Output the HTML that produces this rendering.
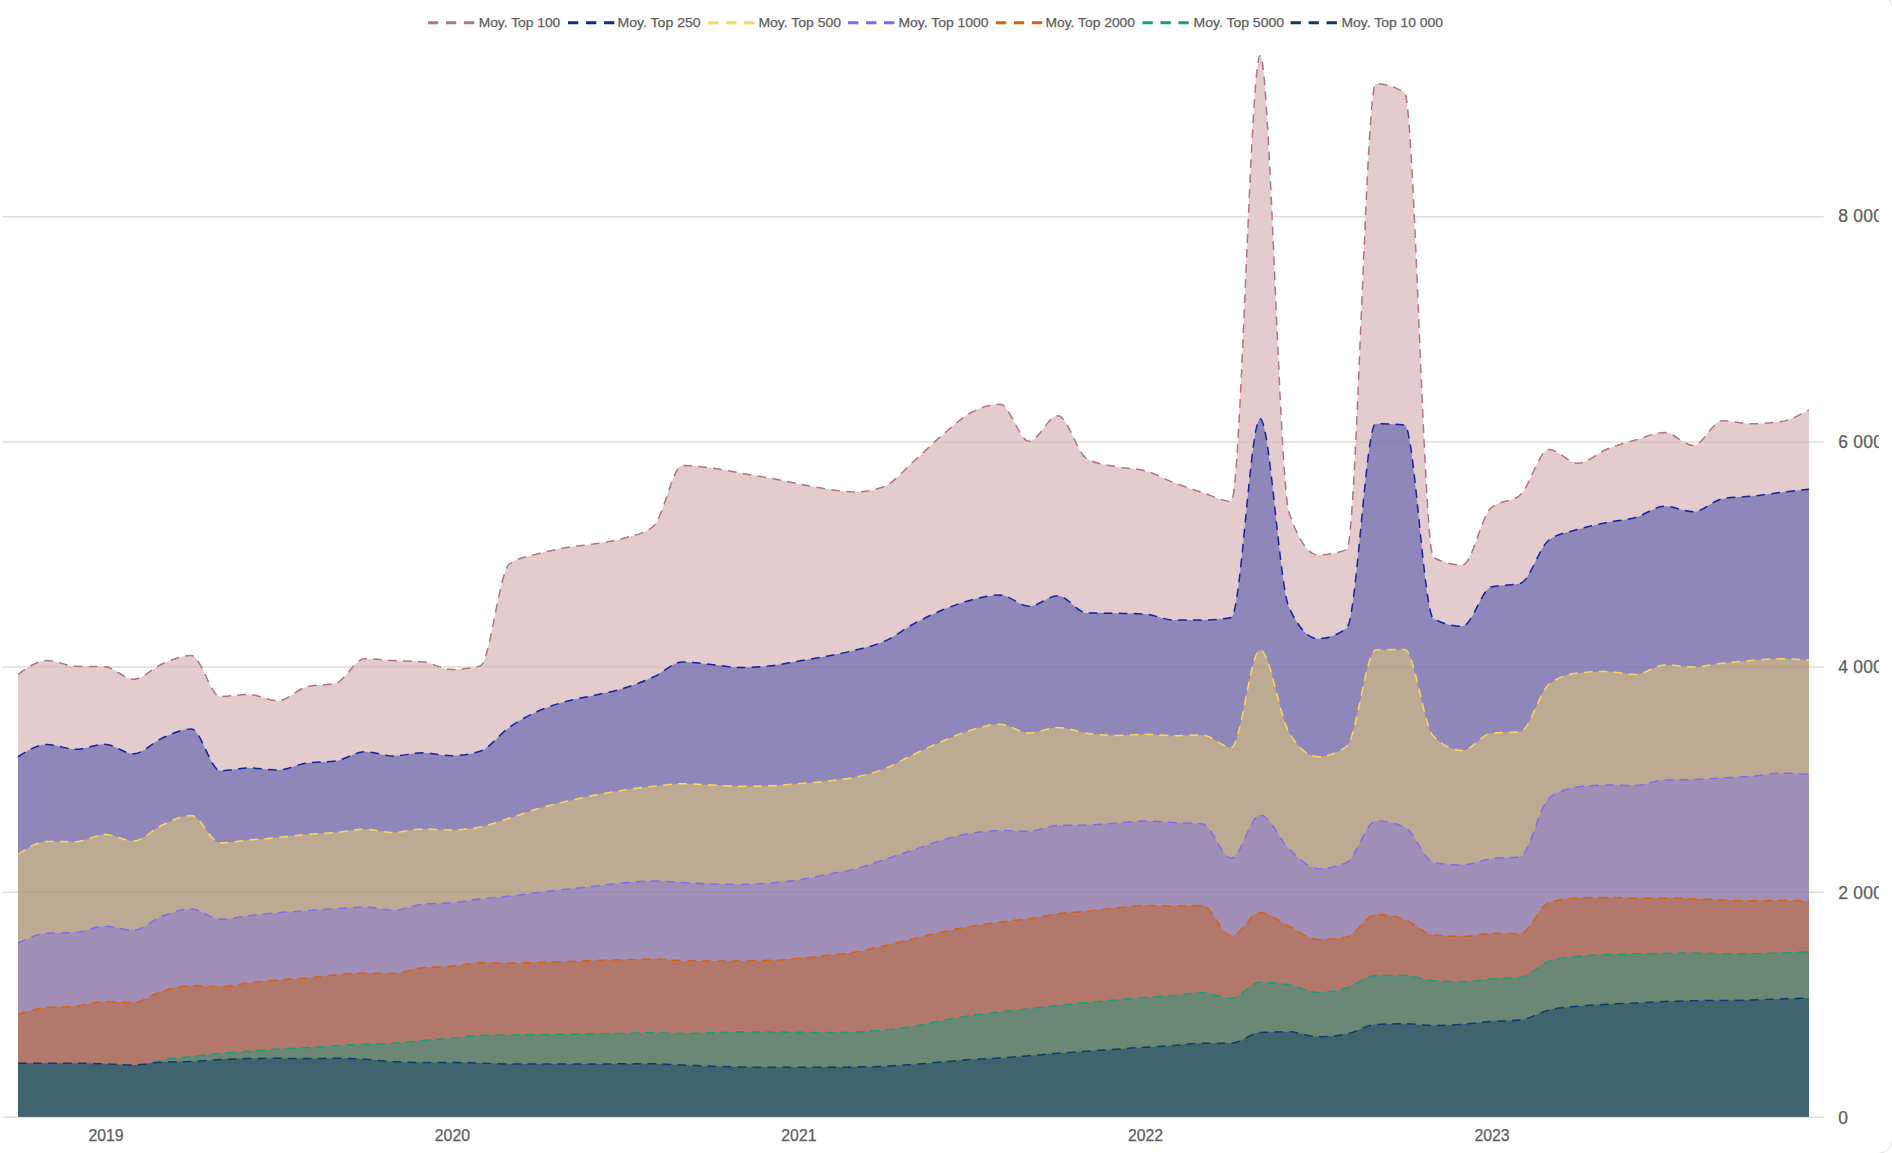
<!DOCTYPE html>
<html><head><meta charset="utf-8"><title>Chart</title>
<style>
html,body{margin:0;padding:0;background:#fff;}
body{width:1892px;height:1153px;position:relative;overflow:hidden;font-family:"Liberation Sans",sans-serif;}
svg text{font-family:"Liberation Sans",sans-serif;stroke:#605E5C;stroke-width:0.25px;}
</style></head><body>
<svg width="1892" height="1153" viewBox="0 0 1892 1153" style="position:absolute;left:0;top:0">
<line x1="3" x2="1823.5" y1="1117.30" y2="1117.30" stroke="#E1DCD7" stroke-width="1.5"/>
<line x1="3" x2="1823.5" y1="892.16" y2="892.16" stroke="#E1DCD7" stroke-width="1.5"/>
<line x1="3" x2="1823.5" y1="667.02" y2="667.02" stroke="#E1DCD7" stroke-width="1.5"/>
<line x1="3" x2="1823.5" y1="441.88" y2="441.88" stroke="#E1DCD7" stroke-width="1.5"/>
<line x1="3" x2="1823.5" y1="216.74" y2="216.74" stroke="#E1DCD7" stroke-width="1.5"/>
<path d="M18.00,674.50C27.63,667.50,37.26,660.50,46.89,660.50C56.52,660.50,66.15,665.92,75.77,666.25C85.40,666.58,95.03,666.42,104.66,666.75C114.29,667.08,123.92,679.25,133.55,679.25C143.18,679.25,152.81,667.71,162.44,663.75C172.06,659.79,181.69,655.50,191.32,655.50C200.95,655.50,210.58,696.50,220.21,696.50C229.84,696.50,239.47,694.50,249.10,694.50C258.73,694.50,268.35,700.75,277.98,700.75C287.61,700.75,297.24,689.08,306.87,686.75C316.50,684.42,326.13,685.58,335.76,683.25C345.39,680.92,355.02,658.75,364.65,658.75C374.27,658.75,383.90,660.00,393.53,660.50C403.16,661.00,412.79,660.92,422.42,661.75C432.05,662.58,441.68,669.50,451.31,669.50C460.94,669.50,470.56,668.33,480.19,666.00C489.82,663.67,499.45,571.67,509.08,564.50C518.71,557.33,528.34,556.58,537.97,553.75C547.60,550.92,557.23,549.17,566.85,547.50C576.48,545.83,586.11,545.33,595.74,543.75C605.37,542.17,615.00,540.92,624.63,538.00C634.26,535.08,643.89,534.08,653.52,526.25C663.15,518.42,672.77,465.50,682.40,465.50C692.03,465.50,701.66,466.75,711.29,468.00C720.92,469.25,730.55,471.33,740.18,473.00C749.81,474.67,759.44,476.21,769.06,478.00C778.69,479.79,788.32,481.92,797.95,483.75C807.58,485.58,817.21,487.62,826.84,489.00C836.47,490.38,846.10,492.00,855.73,492.00C865.35,492.00,874.98,490.08,884.61,486.25C894.24,482.42,903.87,470.04,913.50,461.50C923.13,452.96,932.76,443.17,942.39,435.00C952.02,426.83,961.65,417.62,971.27,412.50C980.90,407.38,990.53,404.25,1000.16,404.25C1009.79,404.25,1019.42,441.25,1029.05,441.25C1038.68,441.25,1048.31,415.75,1057.94,415.75C1067.56,415.75,1077.19,453.42,1086.82,458.75C1096.45,464.08,1106.08,464.79,1115.71,466.75C1125.34,468.71,1134.97,468.00,1144.60,470.50C1154.23,473.00,1163.85,478.83,1173.48,482.50C1183.11,486.17,1192.74,489.38,1202.37,492.50C1212.00,495.62,1221.63,501.25,1231.26,501.25C1240.89,501.25,1250.52,55.50,1260.15,55.50C1269.77,55.50,1279.40,484.17,1289.03,512.50C1298.66,540.83,1308.29,555.00,1317.92,555.00C1327.55,555.00,1337.18,553.17,1346.81,549.50C1356.44,545.83,1366.06,83.75,1375.69,83.75C1385.32,83.75,1394.95,86.67,1404.58,92.50C1414.21,98.33,1423.84,552.50,1433.47,557.50C1443.10,562.50,1452.73,565.00,1462.35,565.00C1471.98,565.00,1481.61,515.83,1491.24,507.50C1500.87,499.17,1510.50,503.33,1520.13,495.00C1529.76,486.67,1539.39,449.50,1549.02,449.50C1558.65,449.50,1568.27,463.25,1577.90,463.25C1587.53,463.25,1597.16,453.12,1606.79,449.25C1616.42,445.38,1626.05,442.79,1635.68,440.00C1645.31,437.21,1654.94,432.50,1664.56,432.50C1674.19,432.50,1683.82,445.50,1693.45,445.50C1703.08,445.50,1712.71,420.75,1722.34,420.75C1731.97,420.75,1741.60,423.75,1751.23,423.75C1760.85,423.75,1770.48,423.08,1780.11,421.75C1789.74,420.42,1799.37,415.21,1809.00,410.00L1809.00,1116.8L18.00,1116.8Z" fill="#E3CBCE"/>
<path d="M18.00,756.75C27.63,750.62,37.26,744.50,46.89,744.50C56.52,744.50,66.15,749.25,75.77,749.25C85.40,749.25,95.03,744.25,104.66,744.25C114.29,744.25,123.92,753.75,133.55,753.75C143.18,753.75,152.81,742.12,162.44,738.00C172.06,733.88,181.69,729.00,191.32,729.00C200.95,729.00,210.58,770.75,220.21,770.75C229.84,770.75,239.47,768.00,249.10,768.00C258.73,768.00,268.35,770.00,277.98,770.00C287.61,770.00,297.24,764.33,306.87,763.00C316.50,761.67,326.13,762.33,335.76,761.00C345.39,759.67,355.02,751.75,364.65,751.75C374.27,751.75,383.90,756.00,393.53,756.00C403.16,756.00,412.79,752.75,422.42,752.75C432.05,752.75,441.68,755.75,451.31,755.75C460.94,755.75,470.56,754.25,480.19,751.25C489.82,748.25,499.45,734.17,509.08,727.50C518.71,720.83,528.34,715.62,537.97,711.25C547.60,706.88,557.23,703.96,566.85,701.25C576.48,698.54,586.11,697.21,595.74,695.00C605.37,692.79,615.00,691.00,624.63,688.00C634.26,685.00,643.89,681.33,653.52,677.00C663.15,672.67,672.77,662.00,682.40,662.00C692.03,662.00,701.66,663.58,711.29,664.50C720.92,665.42,730.55,667.50,740.18,667.50C749.81,667.50,759.44,667.00,769.06,666.00C778.69,665.00,788.32,662.88,797.95,661.25C807.58,659.62,817.21,658.12,826.84,656.25C836.47,654.38,846.10,652.50,855.73,650.00C865.35,647.50,874.98,645.58,884.61,641.25C894.24,636.92,903.87,629.21,913.50,624.00C923.13,618.79,932.76,614.00,942.39,610.00C952.02,606.00,961.65,602.50,971.27,600.00C980.90,597.50,990.53,595.00,1000.16,595.00C1009.79,595.00,1019.42,606.25,1029.05,606.25C1038.68,606.25,1048.31,595.75,1057.94,595.75C1067.56,595.75,1077.19,612.83,1086.82,613.00C1096.45,613.17,1106.08,613.08,1115.71,613.25C1125.34,613.42,1134.97,613.50,1144.60,614.00C1154.23,614.50,1163.85,620.00,1173.48,620.00C1183.11,620.00,1192.74,620.00,1202.37,620.00C1212.00,620.00,1221.63,619.17,1231.26,617.50C1240.89,615.83,1250.52,418.75,1260.15,418.75C1269.77,418.75,1279.40,586.67,1289.03,607.50C1298.66,628.33,1308.29,638.75,1317.92,638.75C1327.55,638.75,1337.18,635.17,1346.81,628.00C1356.44,620.83,1366.06,423.75,1375.69,423.75C1385.32,423.75,1394.95,424.17,1404.58,425.00C1414.21,425.83,1423.84,613.75,1433.47,618.75C1443.10,623.75,1452.73,626.25,1462.35,626.25C1471.98,626.25,1481.61,589.33,1491.24,587.00C1500.87,584.67,1510.50,585.83,1520.13,583.50C1529.76,581.17,1539.39,547.00,1549.02,540.00C1558.65,533.00,1568.27,532.42,1577.90,529.50C1587.53,526.58,1597.16,524.50,1606.79,522.50C1616.42,520.50,1626.05,520.21,1635.68,517.50C1645.31,514.79,1654.94,506.25,1664.56,506.25C1674.19,506.25,1683.82,511.75,1693.45,511.75C1703.08,511.75,1712.71,500.42,1722.34,498.75C1731.97,497.08,1741.60,497.29,1751.23,496.25C1760.85,495.21,1770.48,493.67,1780.11,492.50C1789.74,491.33,1799.37,490.29,1809.00,489.25L1809.00,1116.8L18.00,1116.8Z" fill="#8F87BA"/>
<path d="M18.00,854.50C27.63,848.00,37.26,841.50,46.89,841.50C56.52,841.50,66.15,841.75,75.77,841.75C85.40,841.75,95.03,834.50,104.66,834.50C114.29,834.50,123.92,841.00,133.55,841.00C143.18,841.00,152.81,829.25,162.44,825.00C172.06,820.75,181.69,815.50,191.32,815.50C200.95,815.50,210.58,843.00,220.21,843.00C229.84,843.00,239.47,840.92,249.10,840.00C258.73,839.08,268.35,838.42,277.98,837.50C287.61,836.58,297.24,835.33,306.87,834.50C316.50,833.67,326.13,833.38,335.76,832.50C345.39,831.62,355.02,829.25,364.65,829.25C374.27,829.25,383.90,832.50,393.53,832.50C403.16,832.50,412.79,829.00,422.42,829.00C432.05,829.00,441.68,830.00,451.31,830.00C460.94,830.00,470.56,828.96,480.19,827.00C489.82,825.04,499.45,821.29,509.08,818.25C518.71,815.21,528.34,811.58,537.97,808.75C547.60,805.92,557.23,803.54,566.85,801.25C576.48,798.96,586.11,796.88,595.74,795.00C605.37,793.12,615.00,791.46,624.63,790.00C634.26,788.54,643.89,787.29,653.52,786.25C663.15,785.21,672.77,783.75,682.40,783.75C692.03,783.75,701.66,784.58,711.29,785.00C720.92,785.42,730.55,786.25,740.18,786.25C749.81,786.25,759.44,786.08,769.06,785.75C778.69,785.42,788.32,784.50,797.95,783.75C807.58,783.00,817.21,782.38,826.84,781.25C836.47,780.12,846.10,779.08,855.73,777.00C865.35,774.92,874.98,772.50,884.61,768.75C894.24,765.00,903.87,759.08,913.50,754.50C923.13,749.92,932.76,745.33,942.39,741.25C952.02,737.17,961.65,732.83,971.27,730.00C980.90,727.17,990.53,724.25,1000.16,724.25C1009.79,724.25,1019.42,733.00,1029.05,733.00C1038.68,733.00,1048.31,727.50,1057.94,727.50C1067.56,727.50,1077.19,731.92,1086.82,733.25C1096.45,734.58,1106.08,735.50,1115.71,735.50C1125.34,735.50,1134.97,734.25,1144.60,734.25C1154.23,734.25,1163.85,735.75,1173.48,735.75C1183.11,735.75,1192.74,735.00,1202.37,735.00C1212.00,735.00,1221.63,747.50,1231.26,747.50C1240.89,747.50,1250.52,650.00,1260.15,650.00C1269.77,650.00,1279.40,716.33,1289.03,732.50C1298.66,748.67,1308.29,756.75,1317.92,756.75C1327.55,756.75,1337.18,753.25,1346.81,746.25C1356.44,739.25,1366.06,650.33,1375.69,650.00C1385.32,649.67,1394.95,649.50,1404.58,649.50C1414.21,649.50,1423.84,726.75,1433.47,736.25C1443.10,745.75,1452.73,750.50,1462.35,750.50C1471.98,750.50,1481.61,734.25,1491.24,733.25C1500.87,732.25,1510.50,732.75,1520.13,731.75C1529.76,730.75,1539.39,691.75,1549.02,684.25C1558.65,676.75,1568.27,674.00,1577.90,673.00C1587.53,672.00,1597.16,671.50,1606.79,671.50C1616.42,671.50,1626.05,674.50,1635.68,674.50C1645.31,674.50,1654.94,665.00,1664.56,665.00C1674.19,665.00,1683.82,667.00,1693.45,667.00C1703.08,667.00,1712.71,664.33,1722.34,663.25C1731.97,662.17,1741.60,661.25,1751.23,660.50C1760.85,659.75,1770.48,658.75,1780.11,658.75C1789.74,658.75,1799.37,659.38,1809.00,660.00L1809.00,1116.8L18.00,1116.8Z" fill="#BCAA92"/>
<path d="M18.00,943.25C27.63,938.50,37.26,933.75,46.89,933.25C56.52,932.75,66.15,933.00,75.77,932.50C85.40,932.00,95.03,926.25,104.66,926.25C114.29,926.25,123.92,930.25,133.55,930.25C143.18,930.25,152.81,919.79,162.44,916.25C172.06,912.71,181.69,909.00,191.32,909.00C200.95,909.00,210.58,919.25,220.21,919.25C229.84,919.25,239.47,916.83,249.10,915.75C258.73,914.67,268.35,913.58,277.98,912.75C287.61,911.92,297.24,911.42,306.87,910.75C316.50,910.08,326.13,909.33,335.76,908.75C345.39,908.17,355.02,907.25,364.65,907.25C374.27,907.25,383.90,910.25,393.53,910.25C403.16,910.25,412.79,905.25,422.42,904.25C432.05,903.25,441.68,903.62,451.31,902.75C460.94,901.88,470.56,900.08,480.19,899.00C489.82,897.92,499.45,897.33,509.08,896.25C518.71,895.17,528.34,893.67,537.97,892.50C547.60,891.33,557.23,890.33,566.85,889.25C576.48,888.17,586.11,887.08,595.74,886.00C605.37,884.92,615.00,883.58,624.63,882.75C634.26,881.92,643.89,881.00,653.52,881.00C663.15,881.00,672.77,882.00,682.40,882.50C692.03,883.00,701.66,883.67,711.29,884.00C720.92,884.33,730.55,884.50,740.18,884.50C749.81,884.50,759.44,884.00,769.06,883.25C778.69,882.50,788.32,881.46,797.95,880.00C807.58,878.54,817.21,876.38,826.84,874.50C836.47,872.62,846.10,871.25,855.73,868.75C865.35,866.25,874.98,862.62,884.61,859.50C894.24,856.38,903.87,853.25,913.50,850.00C923.13,846.75,932.76,842.75,942.39,840.00C952.02,837.25,961.65,835.08,971.27,833.50C980.90,831.92,990.53,830.50,1000.16,830.50C1009.79,830.50,1019.42,831.25,1029.05,831.25C1038.68,831.25,1048.31,825.83,1057.94,825.50C1067.56,825.17,1077.19,825.33,1086.82,825.00C1096.45,824.67,1106.08,823.92,1115.71,823.25C1125.34,822.58,1134.97,821.00,1144.60,821.00C1154.23,821.00,1163.85,822.00,1173.48,822.50C1183.11,823.00,1192.74,823.00,1202.37,824.00C1212.00,825.00,1221.63,858.25,1231.26,858.25C1240.89,858.25,1250.52,815.00,1260.15,815.00C1269.77,815.00,1279.40,840.04,1289.03,849.00C1298.66,857.96,1308.29,868.75,1317.92,868.75C1327.55,868.75,1337.18,866.67,1346.81,862.50C1356.44,858.33,1366.06,821.00,1375.69,821.00C1385.32,821.00,1394.95,823.00,1404.58,827.00C1414.21,831.00,1423.84,860.83,1433.47,862.50C1443.10,864.17,1452.73,865.00,1462.35,865.00C1471.98,865.00,1481.61,860.08,1491.24,858.75C1500.87,857.42,1510.50,858.08,1520.13,856.75C1529.76,855.42,1539.39,805.75,1549.02,798.25C1558.65,790.75,1568.27,788.33,1577.90,787.00C1587.53,785.67,1597.16,785.00,1606.79,785.00C1616.42,785.00,1626.05,785.50,1635.68,785.50C1645.31,785.50,1654.94,780.33,1664.56,780.00C1674.19,779.67,1683.82,779.83,1693.45,779.50C1703.08,779.17,1712.71,778.54,1722.34,778.00C1731.97,777.46,1741.60,777.04,1751.23,776.25C1760.85,775.46,1770.48,773.25,1780.11,773.25C1789.74,773.25,1799.37,773.62,1809.00,774.00L1809.00,1116.8L18.00,1116.8Z" fill="#A28FB8"/>
<path d="M18.00,1014.50C27.63,1011.42,37.26,1008.33,46.89,1007.50C56.52,1006.67,66.15,1007.08,75.77,1006.25C85.40,1005.42,95.03,1001.50,104.66,1001.50C114.29,1001.50,123.92,1002.50,133.55,1002.50C143.18,1002.50,152.81,994.08,162.44,991.25C172.06,988.42,181.69,985.50,191.32,985.50C200.95,985.50,210.58,986.75,220.21,986.75C229.84,986.75,239.47,983.88,249.10,982.75C258.73,981.62,268.35,980.79,277.98,980.00C287.61,979.21,297.24,978.83,306.87,978.00C316.50,977.17,326.13,975.83,335.76,975.00C345.39,974.17,355.02,973.00,364.65,973.00C374.27,973.00,383.90,973.50,393.53,973.50C403.16,973.50,412.79,968.75,422.42,967.75C432.05,966.75,441.68,967.08,451.31,966.25C460.94,965.42,470.56,962.75,480.19,962.75C489.82,962.75,499.45,963.00,509.08,963.00C518.71,963.00,528.34,962.75,537.97,962.50C547.60,962.25,557.23,961.83,566.85,961.50C576.48,961.17,586.11,960.79,595.74,960.50C605.37,960.21,615.00,960.00,624.63,959.75C634.26,959.50,643.89,959.00,653.52,959.00C663.15,959.00,672.77,960.58,682.40,960.75C692.03,960.92,701.66,961.00,711.29,961.00C720.92,961.00,730.55,961.00,740.18,961.00C749.81,961.00,759.44,960.67,769.06,960.25C778.69,959.83,788.32,959.29,797.95,958.50C807.58,957.71,817.21,956.58,826.84,955.50C836.47,954.42,846.10,953.62,855.73,952.00C865.35,950.38,874.98,947.96,884.61,945.75C894.24,943.54,903.87,941.04,913.50,938.75C923.13,936.46,932.76,934.08,942.39,932.00C952.02,929.92,961.65,927.92,971.27,926.25C980.90,924.58,990.53,923.25,1000.16,922.00C1009.79,920.75,1019.42,920.12,1029.05,918.75C1038.68,917.38,1048.31,915.00,1057.94,913.75C1067.56,912.50,1077.19,912.21,1086.82,911.25C1096.45,910.29,1106.08,908.96,1115.71,908.00C1125.34,907.04,1134.97,905.50,1144.60,905.50C1154.23,905.50,1163.85,906.00,1173.48,906.00C1183.11,906.00,1192.74,905.50,1202.37,905.50C1212.00,905.50,1221.63,936.25,1231.26,936.25C1240.89,936.25,1250.52,912.50,1260.15,912.50C1269.77,912.50,1279.40,921.75,1289.03,926.25C1298.66,930.75,1308.29,939.50,1317.92,939.50C1327.55,939.50,1337.18,938.67,1346.81,937.00C1356.44,935.33,1366.06,914.50,1375.69,914.50C1385.32,914.50,1394.95,916.17,1404.58,919.50C1414.21,922.83,1423.84,934.17,1433.47,935.00C1443.10,935.83,1452.73,936.25,1462.35,936.25C1471.98,936.25,1481.61,933.25,1491.24,933.25C1500.87,933.25,1510.50,933.75,1520.13,933.75C1529.76,933.75,1539.39,905.50,1549.02,902.50C1558.65,899.50,1568.27,898.33,1577.90,898.00C1587.53,897.67,1597.16,897.50,1606.79,897.50C1616.42,897.50,1626.05,898.00,1635.68,898.00C1645.31,898.00,1654.94,898.00,1664.56,898.00C1674.19,898.00,1683.82,898.42,1693.45,898.75C1703.08,899.08,1712.71,899.67,1722.34,900.00C1731.97,900.33,1741.60,900.75,1751.23,900.75C1760.85,900.75,1770.48,900.50,1780.11,900.50C1789.74,900.50,1799.37,900.88,1809.00,901.25L1809.00,1116.8L18.00,1116.8Z" fill="#B2786C"/>
<path d="M152.00,1062.40C155.48,1061.67,158.96,1060.94,162.44,1060.30C172.06,1058.54,181.69,1057.65,191.32,1056.50C200.95,1055.35,210.58,1054.27,220.21,1053.40C229.84,1052.53,239.47,1052.03,249.10,1051.30C258.73,1050.57,268.35,1049.58,277.98,1049.00C287.61,1048.42,297.24,1048.35,306.87,1047.80C316.50,1047.25,326.13,1046.29,335.76,1045.70C345.39,1045.11,355.02,1044.66,364.65,1044.25C374.27,1043.84,383.90,1043.88,393.53,1043.25C403.16,1042.62,412.79,1041.33,422.42,1040.50C432.05,1039.67,441.68,1039.10,451.31,1038.25C460.94,1037.40,470.56,1035.67,480.19,1035.40C489.82,1035.13,499.45,1035.15,509.08,1035.00C518.71,1034.85,528.34,1034.62,537.97,1034.50C547.60,1034.38,557.23,1034.38,566.85,1034.25C576.48,1034.12,586.11,1033.92,595.74,1033.75C605.37,1033.58,615.00,1033.42,624.63,1033.25C634.26,1033.08,643.89,1032.75,653.52,1032.75C663.15,1032.75,672.77,1033.50,682.40,1033.50C692.03,1033.50,701.66,1033.00,711.29,1032.75C720.92,1032.50,730.55,1032.00,740.18,1032.00C749.81,1032.00,759.44,1032.00,769.06,1032.00C778.69,1032.00,788.32,1032.17,797.95,1032.25C807.58,1032.33,817.21,1032.50,826.84,1032.50C836.47,1032.50,846.10,1032.33,855.73,1032.00C865.35,1031.67,874.98,1030.96,884.61,1030.00C894.24,1029.04,903.87,1027.83,913.50,1026.25C923.13,1024.67,932.76,1022.29,942.39,1020.50C952.02,1018.71,961.65,1016.92,971.27,1015.50C980.90,1014.08,990.53,1013.12,1000.16,1012.00C1009.79,1010.88,1019.42,1009.83,1029.05,1008.75C1038.68,1007.67,1048.31,1006.54,1057.94,1005.50C1067.56,1004.46,1077.19,1003.42,1086.82,1002.50C1096.45,1001.58,1106.08,1000.83,1115.71,1000.00C1125.34,999.17,1134.97,998.25,1144.60,997.50C1154.23,996.75,1163.85,996.33,1173.48,995.50C1183.11,994.67,1192.74,992.50,1202.37,992.50C1212.00,992.50,1221.63,998.25,1231.26,998.25C1240.89,998.25,1250.52,982.25,1260.15,982.25C1269.77,982.25,1279.40,983.29,1289.03,985.00C1298.66,986.71,1308.29,992.50,1317.92,992.50C1327.55,992.50,1337.18,990.57,1346.81,987.75C1356.44,984.93,1366.06,975.67,1375.69,975.60C1385.32,975.53,1394.95,975.50,1404.58,975.50C1414.21,975.50,1423.84,980.08,1433.47,980.75C1443.10,981.42,1452.73,981.75,1462.35,981.75C1471.98,981.75,1481.61,979.46,1491.24,978.75C1500.87,978.04,1510.50,978.33,1520.13,977.50C1529.76,976.67,1539.39,964.58,1549.02,961.25C1558.65,957.92,1568.27,957.38,1577.90,956.25C1587.53,955.12,1597.16,954.83,1606.79,954.50C1616.42,954.17,1626.05,954.21,1635.68,954.00C1645.31,953.79,1654.94,953.42,1664.56,953.25C1674.19,953.08,1683.82,953.00,1693.45,953.00C1703.08,953.00,1712.71,953.75,1722.34,953.75C1731.97,953.75,1741.60,953.75,1751.23,953.75C1760.85,953.75,1770.48,953.04,1780.11,952.75C1789.74,952.46,1799.37,952.23,1809.00,952.00L1809.00,1116.8L152.00,1116.8Z" fill="#6B8874"/>
<path d="M18.00,1063.25C27.63,1063.25,37.26,1063.25,46.89,1063.25C56.52,1063.25,66.15,1063.25,75.77,1063.25C85.40,1063.25,95.03,1063.46,104.66,1063.75C114.29,1064.04,123.92,1065.00,133.55,1065.00C143.18,1065.00,152.81,1062.50,162.44,1062.10C172.06,1061.70,181.69,1061.90,191.32,1061.50C200.95,1061.10,210.58,1059.98,220.21,1059.50C229.84,1059.02,239.47,1058.80,249.10,1058.60C258.73,1058.40,268.35,1058.30,277.98,1058.30C287.61,1058.30,297.24,1058.60,306.87,1058.60C316.50,1058.60,326.13,1058.30,335.76,1058.30C345.39,1058.30,355.02,1058.67,364.65,1059.25C374.27,1059.83,383.90,1061.25,393.53,1061.75C403.16,1062.25,412.79,1062.50,422.42,1062.50C432.05,1062.50,441.68,1062.40,451.31,1062.40C460.94,1062.40,470.56,1062.83,480.19,1063.10C489.82,1063.37,499.45,1064.00,509.08,1064.00C518.71,1064.00,528.34,1064.00,537.97,1064.00C547.60,1064.00,557.23,1064.00,566.85,1064.00C576.48,1064.00,586.11,1064.00,595.74,1064.00C605.37,1064.00,615.00,1063.75,624.63,1063.75C634.26,1063.75,643.89,1063.75,653.52,1063.75C663.15,1063.75,672.77,1064.58,682.40,1065.00C692.03,1065.42,701.66,1065.92,711.29,1066.25C720.92,1066.58,730.55,1066.83,740.18,1067.00C749.81,1067.17,759.44,1067.25,769.06,1067.25C778.69,1067.25,788.32,1067.25,797.95,1067.25C807.58,1067.25,817.21,1067.25,826.84,1067.25C836.47,1067.25,846.10,1067.17,855.73,1067.00C865.35,1066.83,874.98,1066.68,884.61,1066.25C894.24,1065.82,903.87,1065.11,913.50,1064.40C923.13,1063.69,932.76,1062.82,942.39,1062.00C952.02,1061.18,961.65,1060.17,971.27,1059.50C980.90,1058.83,990.53,1058.62,1000.16,1058.00C1009.79,1057.38,1019.42,1056.54,1029.05,1055.75C1038.68,1054.96,1048.31,1054.00,1057.94,1053.25C1067.56,1052.50,1077.19,1051.92,1086.82,1051.25C1096.45,1050.58,1106.08,1049.92,1115.71,1049.25C1125.34,1048.58,1134.97,1047.88,1144.60,1047.25C1154.23,1046.62,1163.85,1046.17,1173.48,1045.50C1183.11,1044.83,1192.74,1043.25,1202.37,1043.25C1212.00,1043.25,1221.63,1043.25,1231.26,1043.25C1240.89,1043.25,1250.52,1033.00,1260.15,1032.50C1269.77,1032.00,1279.40,1031.75,1289.03,1031.75C1298.66,1031.75,1308.29,1036.75,1317.92,1036.75C1327.55,1036.75,1337.18,1035.83,1346.81,1034.00C1356.44,1032.17,1366.06,1025.00,1375.69,1024.50C1385.32,1024.00,1394.95,1023.75,1404.58,1023.75C1414.21,1023.75,1423.84,1025.50,1433.47,1025.50C1443.10,1025.50,1452.73,1024.92,1462.35,1024.25C1471.98,1023.58,1481.61,1022.21,1491.24,1021.50C1500.87,1020.79,1510.50,1021.00,1520.13,1020.00C1529.76,1019.00,1539.39,1012.29,1549.02,1010.00C1558.65,1007.71,1568.27,1007.21,1577.90,1006.25C1587.53,1005.29,1597.16,1004.79,1606.79,1004.25C1616.42,1003.71,1626.05,1003.46,1635.68,1003.00C1645.31,1002.54,1654.94,1001.88,1664.56,1001.50C1674.19,1001.12,1683.82,1000.92,1693.45,1000.75C1703.08,1000.58,1712.71,1000.62,1722.34,1000.50C1731.97,1000.38,1741.60,1000.25,1751.23,1000.00C1760.85,999.75,1770.48,999.33,1780.11,999.00C1789.74,998.67,1799.37,998.33,1809.00,998.00L1809.00,1116.8L18.00,1116.8Z" fill="#40646E"/>
<clipPath id="area"><path d="M18.00,674.50C27.63,667.50,37.26,660.50,46.89,660.50C56.52,660.50,66.15,665.92,75.77,666.25C85.40,666.58,95.03,666.42,104.66,666.75C114.29,667.08,123.92,679.25,133.55,679.25C143.18,679.25,152.81,667.71,162.44,663.75C172.06,659.79,181.69,655.50,191.32,655.50C200.95,655.50,210.58,696.50,220.21,696.50C229.84,696.50,239.47,694.50,249.10,694.50C258.73,694.50,268.35,700.75,277.98,700.75C287.61,700.75,297.24,689.08,306.87,686.75C316.50,684.42,326.13,685.58,335.76,683.25C345.39,680.92,355.02,658.75,364.65,658.75C374.27,658.75,383.90,660.00,393.53,660.50C403.16,661.00,412.79,660.92,422.42,661.75C432.05,662.58,441.68,669.50,451.31,669.50C460.94,669.50,470.56,668.33,480.19,666.00C489.82,663.67,499.45,571.67,509.08,564.50C518.71,557.33,528.34,556.58,537.97,553.75C547.60,550.92,557.23,549.17,566.85,547.50C576.48,545.83,586.11,545.33,595.74,543.75C605.37,542.17,615.00,540.92,624.63,538.00C634.26,535.08,643.89,534.08,653.52,526.25C663.15,518.42,672.77,465.50,682.40,465.50C692.03,465.50,701.66,466.75,711.29,468.00C720.92,469.25,730.55,471.33,740.18,473.00C749.81,474.67,759.44,476.21,769.06,478.00C778.69,479.79,788.32,481.92,797.95,483.75C807.58,485.58,817.21,487.62,826.84,489.00C836.47,490.38,846.10,492.00,855.73,492.00C865.35,492.00,874.98,490.08,884.61,486.25C894.24,482.42,903.87,470.04,913.50,461.50C923.13,452.96,932.76,443.17,942.39,435.00C952.02,426.83,961.65,417.62,971.27,412.50C980.90,407.38,990.53,404.25,1000.16,404.25C1009.79,404.25,1019.42,441.25,1029.05,441.25C1038.68,441.25,1048.31,415.75,1057.94,415.75C1067.56,415.75,1077.19,453.42,1086.82,458.75C1096.45,464.08,1106.08,464.79,1115.71,466.75C1125.34,468.71,1134.97,468.00,1144.60,470.50C1154.23,473.00,1163.85,478.83,1173.48,482.50C1183.11,486.17,1192.74,489.38,1202.37,492.50C1212.00,495.62,1221.63,501.25,1231.26,501.25C1240.89,501.25,1250.52,55.50,1260.15,55.50C1269.77,55.50,1279.40,484.17,1289.03,512.50C1298.66,540.83,1308.29,555.00,1317.92,555.00C1327.55,555.00,1337.18,553.17,1346.81,549.50C1356.44,545.83,1366.06,83.75,1375.69,83.75C1385.32,83.75,1394.95,86.67,1404.58,92.50C1414.21,98.33,1423.84,552.50,1433.47,557.50C1443.10,562.50,1452.73,565.00,1462.35,565.00C1471.98,565.00,1481.61,515.83,1491.24,507.50C1500.87,499.17,1510.50,503.33,1520.13,495.00C1529.76,486.67,1539.39,449.50,1549.02,449.50C1558.65,449.50,1568.27,463.25,1577.90,463.25C1587.53,463.25,1597.16,453.12,1606.79,449.25C1616.42,445.38,1626.05,442.79,1635.68,440.00C1645.31,437.21,1654.94,432.50,1664.56,432.50C1674.19,432.50,1683.82,445.50,1693.45,445.50C1703.08,445.50,1712.71,420.75,1722.34,420.75C1731.97,420.75,1741.60,423.75,1751.23,423.75C1760.85,423.75,1770.48,423.08,1780.11,421.75C1789.74,420.42,1799.37,415.21,1809.00,410.00L1809.00,1116.8L18.00,1116.8Z"/></clipPath><g clip-path="url(#area)">
<line x1="18" x2="1809" y1="892.16" y2="892.16" stroke="#000" stroke-opacity="0.06" stroke-width="1"/>
<line x1="18" x2="1809" y1="667.02" y2="667.02" stroke="#000" stroke-opacity="0.06" stroke-width="1"/>
<line x1="18" x2="1809" y1="441.88" y2="441.88" stroke="#000" stroke-opacity="0.06" stroke-width="1"/>
</g>
<path d="M18.00,674.50C27.63,667.50,37.26,660.50,46.89,660.50C56.52,660.50,66.15,665.92,75.77,666.25C85.40,666.58,95.03,666.42,104.66,666.75C114.29,667.08,123.92,679.25,133.55,679.25C143.18,679.25,152.81,667.71,162.44,663.75C172.06,659.79,181.69,655.50,191.32,655.50C200.95,655.50,210.58,696.50,220.21,696.50C229.84,696.50,239.47,694.50,249.10,694.50C258.73,694.50,268.35,700.75,277.98,700.75C287.61,700.75,297.24,689.08,306.87,686.75C316.50,684.42,326.13,685.58,335.76,683.25C345.39,680.92,355.02,658.75,364.65,658.75C374.27,658.75,383.90,660.00,393.53,660.50C403.16,661.00,412.79,660.92,422.42,661.75C432.05,662.58,441.68,669.50,451.31,669.50C460.94,669.50,470.56,668.33,480.19,666.00C489.82,663.67,499.45,571.67,509.08,564.50C518.71,557.33,528.34,556.58,537.97,553.75C547.60,550.92,557.23,549.17,566.85,547.50C576.48,545.83,586.11,545.33,595.74,543.75C605.37,542.17,615.00,540.92,624.63,538.00C634.26,535.08,643.89,534.08,653.52,526.25C663.15,518.42,672.77,465.50,682.40,465.50C692.03,465.50,701.66,466.75,711.29,468.00C720.92,469.25,730.55,471.33,740.18,473.00C749.81,474.67,759.44,476.21,769.06,478.00C778.69,479.79,788.32,481.92,797.95,483.75C807.58,485.58,817.21,487.62,826.84,489.00C836.47,490.38,846.10,492.00,855.73,492.00C865.35,492.00,874.98,490.08,884.61,486.25C894.24,482.42,903.87,470.04,913.50,461.50C923.13,452.96,932.76,443.17,942.39,435.00C952.02,426.83,961.65,417.62,971.27,412.50C980.90,407.38,990.53,404.25,1000.16,404.25C1009.79,404.25,1019.42,441.25,1029.05,441.25C1038.68,441.25,1048.31,415.75,1057.94,415.75C1067.56,415.75,1077.19,453.42,1086.82,458.75C1096.45,464.08,1106.08,464.79,1115.71,466.75C1125.34,468.71,1134.97,468.00,1144.60,470.50C1154.23,473.00,1163.85,478.83,1173.48,482.50C1183.11,486.17,1192.74,489.38,1202.37,492.50C1212.00,495.62,1221.63,501.25,1231.26,501.25C1240.89,501.25,1250.52,55.50,1260.15,55.50C1269.77,55.50,1279.40,484.17,1289.03,512.50C1298.66,540.83,1308.29,555.00,1317.92,555.00C1327.55,555.00,1337.18,553.17,1346.81,549.50C1356.44,545.83,1366.06,83.75,1375.69,83.75C1385.32,83.75,1394.95,86.67,1404.58,92.50C1414.21,98.33,1423.84,552.50,1433.47,557.50C1443.10,562.50,1452.73,565.00,1462.35,565.00C1471.98,565.00,1481.61,515.83,1491.24,507.50C1500.87,499.17,1510.50,503.33,1520.13,495.00C1529.76,486.67,1539.39,449.50,1549.02,449.50C1558.65,449.50,1568.27,463.25,1577.90,463.25C1587.53,463.25,1597.16,453.12,1606.79,449.25C1616.42,445.38,1626.05,442.79,1635.68,440.00C1645.31,437.21,1654.94,432.50,1664.56,432.50C1674.19,432.50,1683.82,445.50,1693.45,445.50C1703.08,445.50,1712.71,420.75,1722.34,420.75C1731.97,420.75,1741.60,423.75,1751.23,423.75C1760.85,423.75,1770.48,423.08,1780.11,421.75C1789.74,420.42,1799.37,415.21,1809.00,410.00" fill="none" stroke="#B5737E" stroke-width="1.5" stroke-dasharray="8.7,6.3"/>
<path d="M18.00,756.75C27.63,750.62,37.26,744.50,46.89,744.50C56.52,744.50,66.15,749.25,75.77,749.25C85.40,749.25,95.03,744.25,104.66,744.25C114.29,744.25,123.92,753.75,133.55,753.75C143.18,753.75,152.81,742.12,162.44,738.00C172.06,733.88,181.69,729.00,191.32,729.00C200.95,729.00,210.58,770.75,220.21,770.75C229.84,770.75,239.47,768.00,249.10,768.00C258.73,768.00,268.35,770.00,277.98,770.00C287.61,770.00,297.24,764.33,306.87,763.00C316.50,761.67,326.13,762.33,335.76,761.00C345.39,759.67,355.02,751.75,364.65,751.75C374.27,751.75,383.90,756.00,393.53,756.00C403.16,756.00,412.79,752.75,422.42,752.75C432.05,752.75,441.68,755.75,451.31,755.75C460.94,755.75,470.56,754.25,480.19,751.25C489.82,748.25,499.45,734.17,509.08,727.50C518.71,720.83,528.34,715.62,537.97,711.25C547.60,706.88,557.23,703.96,566.85,701.25C576.48,698.54,586.11,697.21,595.74,695.00C605.37,692.79,615.00,691.00,624.63,688.00C634.26,685.00,643.89,681.33,653.52,677.00C663.15,672.67,672.77,662.00,682.40,662.00C692.03,662.00,701.66,663.58,711.29,664.50C720.92,665.42,730.55,667.50,740.18,667.50C749.81,667.50,759.44,667.00,769.06,666.00C778.69,665.00,788.32,662.88,797.95,661.25C807.58,659.62,817.21,658.12,826.84,656.25C836.47,654.38,846.10,652.50,855.73,650.00C865.35,647.50,874.98,645.58,884.61,641.25C894.24,636.92,903.87,629.21,913.50,624.00C923.13,618.79,932.76,614.00,942.39,610.00C952.02,606.00,961.65,602.50,971.27,600.00C980.90,597.50,990.53,595.00,1000.16,595.00C1009.79,595.00,1019.42,606.25,1029.05,606.25C1038.68,606.25,1048.31,595.75,1057.94,595.75C1067.56,595.75,1077.19,612.83,1086.82,613.00C1096.45,613.17,1106.08,613.08,1115.71,613.25C1125.34,613.42,1134.97,613.50,1144.60,614.00C1154.23,614.50,1163.85,620.00,1173.48,620.00C1183.11,620.00,1192.74,620.00,1202.37,620.00C1212.00,620.00,1221.63,619.17,1231.26,617.50C1240.89,615.83,1250.52,418.75,1260.15,418.75C1269.77,418.75,1279.40,586.67,1289.03,607.50C1298.66,628.33,1308.29,638.75,1317.92,638.75C1327.55,638.75,1337.18,635.17,1346.81,628.00C1356.44,620.83,1366.06,423.75,1375.69,423.75C1385.32,423.75,1394.95,424.17,1404.58,425.00C1414.21,425.83,1423.84,613.75,1433.47,618.75C1443.10,623.75,1452.73,626.25,1462.35,626.25C1471.98,626.25,1481.61,589.33,1491.24,587.00C1500.87,584.67,1510.50,585.83,1520.13,583.50C1529.76,581.17,1539.39,547.00,1549.02,540.00C1558.65,533.00,1568.27,532.42,1577.90,529.50C1587.53,526.58,1597.16,524.50,1606.79,522.50C1616.42,520.50,1626.05,520.21,1635.68,517.50C1645.31,514.79,1654.94,506.25,1664.56,506.25C1674.19,506.25,1683.82,511.75,1693.45,511.75C1703.08,511.75,1712.71,500.42,1722.34,498.75C1731.97,497.08,1741.60,497.29,1751.23,496.25C1760.85,495.21,1770.48,493.67,1780.11,492.50C1789.74,491.33,1799.37,490.29,1809.00,489.25" fill="none" stroke="#12239E" stroke-width="1.5" stroke-dasharray="8.7,6.3"/>
<path d="M18.00,854.50C27.63,848.00,37.26,841.50,46.89,841.50C56.52,841.50,66.15,841.75,75.77,841.75C85.40,841.75,95.03,834.50,104.66,834.50C114.29,834.50,123.92,841.00,133.55,841.00C143.18,841.00,152.81,829.25,162.44,825.00C172.06,820.75,181.69,815.50,191.32,815.50C200.95,815.50,210.58,843.00,220.21,843.00C229.84,843.00,239.47,840.92,249.10,840.00C258.73,839.08,268.35,838.42,277.98,837.50C287.61,836.58,297.24,835.33,306.87,834.50C316.50,833.67,326.13,833.38,335.76,832.50C345.39,831.62,355.02,829.25,364.65,829.25C374.27,829.25,383.90,832.50,393.53,832.50C403.16,832.50,412.79,829.00,422.42,829.00C432.05,829.00,441.68,830.00,451.31,830.00C460.94,830.00,470.56,828.96,480.19,827.00C489.82,825.04,499.45,821.29,509.08,818.25C518.71,815.21,528.34,811.58,537.97,808.75C547.60,805.92,557.23,803.54,566.85,801.25C576.48,798.96,586.11,796.88,595.74,795.00C605.37,793.12,615.00,791.46,624.63,790.00C634.26,788.54,643.89,787.29,653.52,786.25C663.15,785.21,672.77,783.75,682.40,783.75C692.03,783.75,701.66,784.58,711.29,785.00C720.92,785.42,730.55,786.25,740.18,786.25C749.81,786.25,759.44,786.08,769.06,785.75C778.69,785.42,788.32,784.50,797.95,783.75C807.58,783.00,817.21,782.38,826.84,781.25C836.47,780.12,846.10,779.08,855.73,777.00C865.35,774.92,874.98,772.50,884.61,768.75C894.24,765.00,903.87,759.08,913.50,754.50C923.13,749.92,932.76,745.33,942.39,741.25C952.02,737.17,961.65,732.83,971.27,730.00C980.90,727.17,990.53,724.25,1000.16,724.25C1009.79,724.25,1019.42,733.00,1029.05,733.00C1038.68,733.00,1048.31,727.50,1057.94,727.50C1067.56,727.50,1077.19,731.92,1086.82,733.25C1096.45,734.58,1106.08,735.50,1115.71,735.50C1125.34,735.50,1134.97,734.25,1144.60,734.25C1154.23,734.25,1163.85,735.75,1173.48,735.75C1183.11,735.75,1192.74,735.00,1202.37,735.00C1212.00,735.00,1221.63,747.50,1231.26,747.50C1240.89,747.50,1250.52,650.00,1260.15,650.00C1269.77,650.00,1279.40,716.33,1289.03,732.50C1298.66,748.67,1308.29,756.75,1317.92,756.75C1327.55,756.75,1337.18,753.25,1346.81,746.25C1356.44,739.25,1366.06,650.33,1375.69,650.00C1385.32,649.67,1394.95,649.50,1404.58,649.50C1414.21,649.50,1423.84,726.75,1433.47,736.25C1443.10,745.75,1452.73,750.50,1462.35,750.50C1471.98,750.50,1481.61,734.25,1491.24,733.25C1500.87,732.25,1510.50,732.75,1520.13,731.75C1529.76,730.75,1539.39,691.75,1549.02,684.25C1558.65,676.75,1568.27,674.00,1577.90,673.00C1587.53,672.00,1597.16,671.50,1606.79,671.50C1616.42,671.50,1626.05,674.50,1635.68,674.50C1645.31,674.50,1654.94,665.00,1664.56,665.00C1674.19,665.00,1683.82,667.00,1693.45,667.00C1703.08,667.00,1712.71,664.33,1722.34,663.25C1731.97,662.17,1741.60,661.25,1751.23,660.50C1760.85,659.75,1770.48,658.75,1780.11,658.75C1789.74,658.75,1799.37,659.38,1809.00,660.00" fill="none" stroke="#FDD85A" stroke-width="1.5" stroke-dasharray="8.7,6.3"/>
<path d="M18.00,943.25C27.63,938.50,37.26,933.75,46.89,933.25C56.52,932.75,66.15,933.00,75.77,932.50C85.40,932.00,95.03,926.25,104.66,926.25C114.29,926.25,123.92,930.25,133.55,930.25C143.18,930.25,152.81,919.79,162.44,916.25C172.06,912.71,181.69,909.00,191.32,909.00C200.95,909.00,210.58,919.25,220.21,919.25C229.84,919.25,239.47,916.83,249.10,915.75C258.73,914.67,268.35,913.58,277.98,912.75C287.61,911.92,297.24,911.42,306.87,910.75C316.50,910.08,326.13,909.33,335.76,908.75C345.39,908.17,355.02,907.25,364.65,907.25C374.27,907.25,383.90,910.25,393.53,910.25C403.16,910.25,412.79,905.25,422.42,904.25C432.05,903.25,441.68,903.62,451.31,902.75C460.94,901.88,470.56,900.08,480.19,899.00C489.82,897.92,499.45,897.33,509.08,896.25C518.71,895.17,528.34,893.67,537.97,892.50C547.60,891.33,557.23,890.33,566.85,889.25C576.48,888.17,586.11,887.08,595.74,886.00C605.37,884.92,615.00,883.58,624.63,882.75C634.26,881.92,643.89,881.00,653.52,881.00C663.15,881.00,672.77,882.00,682.40,882.50C692.03,883.00,701.66,883.67,711.29,884.00C720.92,884.33,730.55,884.50,740.18,884.50C749.81,884.50,759.44,884.00,769.06,883.25C778.69,882.50,788.32,881.46,797.95,880.00C807.58,878.54,817.21,876.38,826.84,874.50C836.47,872.62,846.10,871.25,855.73,868.75C865.35,866.25,874.98,862.62,884.61,859.50C894.24,856.38,903.87,853.25,913.50,850.00C923.13,846.75,932.76,842.75,942.39,840.00C952.02,837.25,961.65,835.08,971.27,833.50C980.90,831.92,990.53,830.50,1000.16,830.50C1009.79,830.50,1019.42,831.25,1029.05,831.25C1038.68,831.25,1048.31,825.83,1057.94,825.50C1067.56,825.17,1077.19,825.33,1086.82,825.00C1096.45,824.67,1106.08,823.92,1115.71,823.25C1125.34,822.58,1134.97,821.00,1144.60,821.00C1154.23,821.00,1163.85,822.00,1173.48,822.50C1183.11,823.00,1192.74,823.00,1202.37,824.00C1212.00,825.00,1221.63,858.25,1231.26,858.25C1240.89,858.25,1250.52,815.00,1260.15,815.00C1269.77,815.00,1279.40,840.04,1289.03,849.00C1298.66,857.96,1308.29,868.75,1317.92,868.75C1327.55,868.75,1337.18,866.67,1346.81,862.50C1356.44,858.33,1366.06,821.00,1375.69,821.00C1385.32,821.00,1394.95,823.00,1404.58,827.00C1414.21,831.00,1423.84,860.83,1433.47,862.50C1443.10,864.17,1452.73,865.00,1462.35,865.00C1471.98,865.00,1481.61,860.08,1491.24,858.75C1500.87,857.42,1510.50,858.08,1520.13,856.75C1529.76,855.42,1539.39,805.75,1549.02,798.25C1558.65,790.75,1568.27,788.33,1577.90,787.00C1587.53,785.67,1597.16,785.00,1606.79,785.00C1616.42,785.00,1626.05,785.50,1635.68,785.50C1645.31,785.50,1654.94,780.33,1664.56,780.00C1674.19,779.67,1683.82,779.83,1693.45,779.50C1703.08,779.17,1712.71,778.54,1722.34,778.00C1731.97,777.46,1741.60,777.04,1751.23,776.25C1760.85,775.46,1770.48,773.25,1780.11,773.25C1789.74,773.25,1799.37,773.62,1809.00,774.00" fill="none" stroke="#7C6CF0" stroke-width="1.5" stroke-dasharray="8.7,6.3"/>
<path d="M18.00,1014.50C27.63,1011.42,37.26,1008.33,46.89,1007.50C56.52,1006.67,66.15,1007.08,75.77,1006.25C85.40,1005.42,95.03,1001.50,104.66,1001.50C114.29,1001.50,123.92,1002.50,133.55,1002.50C143.18,1002.50,152.81,994.08,162.44,991.25C172.06,988.42,181.69,985.50,191.32,985.50C200.95,985.50,210.58,986.75,220.21,986.75C229.84,986.75,239.47,983.88,249.10,982.75C258.73,981.62,268.35,980.79,277.98,980.00C287.61,979.21,297.24,978.83,306.87,978.00C316.50,977.17,326.13,975.83,335.76,975.00C345.39,974.17,355.02,973.00,364.65,973.00C374.27,973.00,383.90,973.50,393.53,973.50C403.16,973.50,412.79,968.75,422.42,967.75C432.05,966.75,441.68,967.08,451.31,966.25C460.94,965.42,470.56,962.75,480.19,962.75C489.82,962.75,499.45,963.00,509.08,963.00C518.71,963.00,528.34,962.75,537.97,962.50C547.60,962.25,557.23,961.83,566.85,961.50C576.48,961.17,586.11,960.79,595.74,960.50C605.37,960.21,615.00,960.00,624.63,959.75C634.26,959.50,643.89,959.00,653.52,959.00C663.15,959.00,672.77,960.58,682.40,960.75C692.03,960.92,701.66,961.00,711.29,961.00C720.92,961.00,730.55,961.00,740.18,961.00C749.81,961.00,759.44,960.67,769.06,960.25C778.69,959.83,788.32,959.29,797.95,958.50C807.58,957.71,817.21,956.58,826.84,955.50C836.47,954.42,846.10,953.62,855.73,952.00C865.35,950.38,874.98,947.96,884.61,945.75C894.24,943.54,903.87,941.04,913.50,938.75C923.13,936.46,932.76,934.08,942.39,932.00C952.02,929.92,961.65,927.92,971.27,926.25C980.90,924.58,990.53,923.25,1000.16,922.00C1009.79,920.75,1019.42,920.12,1029.05,918.75C1038.68,917.38,1048.31,915.00,1057.94,913.75C1067.56,912.50,1077.19,912.21,1086.82,911.25C1096.45,910.29,1106.08,908.96,1115.71,908.00C1125.34,907.04,1134.97,905.50,1144.60,905.50C1154.23,905.50,1163.85,906.00,1173.48,906.00C1183.11,906.00,1192.74,905.50,1202.37,905.50C1212.00,905.50,1221.63,936.25,1231.26,936.25C1240.89,936.25,1250.52,912.50,1260.15,912.50C1269.77,912.50,1279.40,921.75,1289.03,926.25C1298.66,930.75,1308.29,939.50,1317.92,939.50C1327.55,939.50,1337.18,938.67,1346.81,937.00C1356.44,935.33,1366.06,914.50,1375.69,914.50C1385.32,914.50,1394.95,916.17,1404.58,919.50C1414.21,922.83,1423.84,934.17,1433.47,935.00C1443.10,935.83,1452.73,936.25,1462.35,936.25C1471.98,936.25,1481.61,933.25,1491.24,933.25C1500.87,933.25,1510.50,933.75,1520.13,933.75C1529.76,933.75,1539.39,905.50,1549.02,902.50C1558.65,899.50,1568.27,898.33,1577.90,898.00C1587.53,897.67,1597.16,897.50,1606.79,897.50C1616.42,897.50,1626.05,898.00,1635.68,898.00C1645.31,898.00,1654.94,898.00,1664.56,898.00C1674.19,898.00,1683.82,898.42,1693.45,898.75C1703.08,899.08,1712.71,899.67,1722.34,900.00C1731.97,900.33,1741.60,900.75,1751.23,900.75C1760.85,900.75,1770.48,900.50,1780.11,900.50C1789.74,900.50,1799.37,900.88,1809.00,901.25" fill="none" stroke="#D9600C" stroke-width="1.5" stroke-dasharray="8.7,6.3"/>
<path d="M152.00,1062.40C155.48,1061.67,158.96,1060.94,162.44,1060.30C172.06,1058.54,181.69,1057.65,191.32,1056.50C200.95,1055.35,210.58,1054.27,220.21,1053.40C229.84,1052.53,239.47,1052.03,249.10,1051.30C258.73,1050.57,268.35,1049.58,277.98,1049.00C287.61,1048.42,297.24,1048.35,306.87,1047.80C316.50,1047.25,326.13,1046.29,335.76,1045.70C345.39,1045.11,355.02,1044.66,364.65,1044.25C374.27,1043.84,383.90,1043.88,393.53,1043.25C403.16,1042.62,412.79,1041.33,422.42,1040.50C432.05,1039.67,441.68,1039.10,451.31,1038.25C460.94,1037.40,470.56,1035.67,480.19,1035.40C489.82,1035.13,499.45,1035.15,509.08,1035.00C518.71,1034.85,528.34,1034.62,537.97,1034.50C547.60,1034.38,557.23,1034.38,566.85,1034.25C576.48,1034.12,586.11,1033.92,595.74,1033.75C605.37,1033.58,615.00,1033.42,624.63,1033.25C634.26,1033.08,643.89,1032.75,653.52,1032.75C663.15,1032.75,672.77,1033.50,682.40,1033.50C692.03,1033.50,701.66,1033.00,711.29,1032.75C720.92,1032.50,730.55,1032.00,740.18,1032.00C749.81,1032.00,759.44,1032.00,769.06,1032.00C778.69,1032.00,788.32,1032.17,797.95,1032.25C807.58,1032.33,817.21,1032.50,826.84,1032.50C836.47,1032.50,846.10,1032.33,855.73,1032.00C865.35,1031.67,874.98,1030.96,884.61,1030.00C894.24,1029.04,903.87,1027.83,913.50,1026.25C923.13,1024.67,932.76,1022.29,942.39,1020.50C952.02,1018.71,961.65,1016.92,971.27,1015.50C980.90,1014.08,990.53,1013.12,1000.16,1012.00C1009.79,1010.88,1019.42,1009.83,1029.05,1008.75C1038.68,1007.67,1048.31,1006.54,1057.94,1005.50C1067.56,1004.46,1077.19,1003.42,1086.82,1002.50C1096.45,1001.58,1106.08,1000.83,1115.71,1000.00C1125.34,999.17,1134.97,998.25,1144.60,997.50C1154.23,996.75,1163.85,996.33,1173.48,995.50C1183.11,994.67,1192.74,992.50,1202.37,992.50C1212.00,992.50,1221.63,998.25,1231.26,998.25C1240.89,998.25,1250.52,982.25,1260.15,982.25C1269.77,982.25,1279.40,983.29,1289.03,985.00C1298.66,986.71,1308.29,992.50,1317.92,992.50C1327.55,992.50,1337.18,990.57,1346.81,987.75C1356.44,984.93,1366.06,975.67,1375.69,975.60C1385.32,975.53,1394.95,975.50,1404.58,975.50C1414.21,975.50,1423.84,980.08,1433.47,980.75C1443.10,981.42,1452.73,981.75,1462.35,981.75C1471.98,981.75,1481.61,979.46,1491.24,978.75C1500.87,978.04,1510.50,978.33,1520.13,977.50C1529.76,976.67,1539.39,964.58,1549.02,961.25C1558.65,957.92,1568.27,957.38,1577.90,956.25C1587.53,955.12,1597.16,954.83,1606.79,954.50C1616.42,954.17,1626.05,954.21,1635.68,954.00C1645.31,953.79,1654.94,953.42,1664.56,953.25C1674.19,953.08,1683.82,953.00,1693.45,953.00C1703.08,953.00,1712.71,953.75,1722.34,953.75C1731.97,953.75,1741.60,953.75,1751.23,953.75C1760.85,953.75,1770.48,953.04,1780.11,952.75C1789.74,952.46,1799.37,952.23,1809.00,952.00" fill="none" stroke="#13A07A" stroke-width="1.5" stroke-dasharray="8.7,6.3"/>
<path d="M18.00,1063.25C27.63,1063.25,37.26,1063.25,46.89,1063.25C56.52,1063.25,66.15,1063.25,75.77,1063.25C85.40,1063.25,95.03,1063.46,104.66,1063.75C114.29,1064.04,123.92,1065.00,133.55,1065.00C143.18,1065.00,152.81,1062.50,162.44,1062.10C172.06,1061.70,181.69,1061.90,191.32,1061.50C200.95,1061.10,210.58,1059.98,220.21,1059.50C229.84,1059.02,239.47,1058.80,249.10,1058.60C258.73,1058.40,268.35,1058.30,277.98,1058.30C287.61,1058.30,297.24,1058.60,306.87,1058.60C316.50,1058.60,326.13,1058.30,335.76,1058.30C345.39,1058.30,355.02,1058.67,364.65,1059.25C374.27,1059.83,383.90,1061.25,393.53,1061.75C403.16,1062.25,412.79,1062.50,422.42,1062.50C432.05,1062.50,441.68,1062.40,451.31,1062.40C460.94,1062.40,470.56,1062.83,480.19,1063.10C489.82,1063.37,499.45,1064.00,509.08,1064.00C518.71,1064.00,528.34,1064.00,537.97,1064.00C547.60,1064.00,557.23,1064.00,566.85,1064.00C576.48,1064.00,586.11,1064.00,595.74,1064.00C605.37,1064.00,615.00,1063.75,624.63,1063.75C634.26,1063.75,643.89,1063.75,653.52,1063.75C663.15,1063.75,672.77,1064.58,682.40,1065.00C692.03,1065.42,701.66,1065.92,711.29,1066.25C720.92,1066.58,730.55,1066.83,740.18,1067.00C749.81,1067.17,759.44,1067.25,769.06,1067.25C778.69,1067.25,788.32,1067.25,797.95,1067.25C807.58,1067.25,817.21,1067.25,826.84,1067.25C836.47,1067.25,846.10,1067.17,855.73,1067.00C865.35,1066.83,874.98,1066.68,884.61,1066.25C894.24,1065.82,903.87,1065.11,913.50,1064.40C923.13,1063.69,932.76,1062.82,942.39,1062.00C952.02,1061.18,961.65,1060.17,971.27,1059.50C980.90,1058.83,990.53,1058.62,1000.16,1058.00C1009.79,1057.38,1019.42,1056.54,1029.05,1055.75C1038.68,1054.96,1048.31,1054.00,1057.94,1053.25C1067.56,1052.50,1077.19,1051.92,1086.82,1051.25C1096.45,1050.58,1106.08,1049.92,1115.71,1049.25C1125.34,1048.58,1134.97,1047.88,1144.60,1047.25C1154.23,1046.62,1163.85,1046.17,1173.48,1045.50C1183.11,1044.83,1192.74,1043.25,1202.37,1043.25C1212.00,1043.25,1221.63,1043.25,1231.26,1043.25C1240.89,1043.25,1250.52,1033.00,1260.15,1032.50C1269.77,1032.00,1279.40,1031.75,1289.03,1031.75C1298.66,1031.75,1308.29,1036.75,1317.92,1036.75C1327.55,1036.75,1337.18,1035.83,1346.81,1034.00C1356.44,1032.17,1366.06,1025.00,1375.69,1024.50C1385.32,1024.00,1394.95,1023.75,1404.58,1023.75C1414.21,1023.75,1423.84,1025.50,1433.47,1025.50C1443.10,1025.50,1452.73,1024.92,1462.35,1024.25C1471.98,1023.58,1481.61,1022.21,1491.24,1021.50C1500.87,1020.79,1510.50,1021.00,1520.13,1020.00C1529.76,1019.00,1539.39,1012.29,1549.02,1010.00C1558.65,1007.71,1568.27,1007.21,1577.90,1006.25C1587.53,1005.29,1597.16,1004.79,1606.79,1004.25C1616.42,1003.71,1626.05,1003.46,1635.68,1003.00C1645.31,1002.54,1654.94,1001.88,1664.56,1001.50C1674.19,1001.12,1683.82,1000.92,1693.45,1000.75C1703.08,1000.58,1712.71,1000.62,1722.34,1000.50C1731.97,1000.38,1741.60,1000.25,1751.23,1000.00C1760.85,999.75,1770.48,999.33,1780.11,999.00C1789.74,998.67,1799.37,998.33,1809.00,998.00" fill="none" stroke="#0B3B6E" stroke-width="1.5" stroke-dasharray="8.7,6.3"/>
<line x1="427.9" x2="474.5" y1="22.75" y2="22.75" stroke="#B5737E" stroke-width="3" stroke-dasharray="10.3,7.7"/>
<text x="478.7" y="26.7" font-size="13.3" fill="#605E5C" textLength="81.6" lengthAdjust="spacingAndGlyphs">Moy. Top 100</text>
<line x1="568.0" x2="614.6" y1="22.75" y2="22.75" stroke="#12239E" stroke-width="3" stroke-dasharray="10.3,7.7"/>
<text x="617.5" y="26.7" font-size="13.3" fill="#605E5C" textLength="83.1" lengthAdjust="spacingAndGlyphs">Moy. Top 250</text>
<line x1="708.0" x2="754.6" y1="22.75" y2="22.75" stroke="#FDD85A" stroke-width="3" stroke-dasharray="10.3,7.7"/>
<text x="758.4" y="26.7" font-size="13.3" fill="#605E5C" textLength="82.6" lengthAdjust="spacingAndGlyphs">Moy. Top 500</text>
<line x1="848.0" x2="894.6" y1="22.75" y2="22.75" stroke="#7C6CF0" stroke-width="3" stroke-dasharray="10.3,7.7"/>
<text x="898.5" y="26.7" font-size="13.3" fill="#605E5C" textLength="90.1" lengthAdjust="spacingAndGlyphs">Moy. Top 1000</text>
<line x1="995.9" x2="1042.5" y1="22.75" y2="22.75" stroke="#D9600C" stroke-width="3" stroke-dasharray="10.3,7.7"/>
<text x="1045.5" y="26.7" font-size="13.3" fill="#605E5C" textLength="89.5" lengthAdjust="spacingAndGlyphs">Moy. Top 2000</text>
<line x1="1142.5" x2="1189.1" y1="22.75" y2="22.75" stroke="#13A07A" stroke-width="3" stroke-dasharray="10.3,7.7"/>
<text x="1193.5" y="26.7" font-size="13.3" fill="#605E5C" textLength="90.5" lengthAdjust="spacingAndGlyphs">Moy. Top 5000</text>
<line x1="1290.6" x2="1337.2" y1="22.75" y2="22.75" stroke="#0B3B6E" stroke-width="3" stroke-dasharray="10.3,7.7"/>
<text x="1341.5" y="26.7" font-size="13.3" fill="#605E5C" textLength="101.5" lengthAdjust="spacingAndGlyphs">Moy. Top 10 000</text>
<text x="106.0" y="1141" font-size="15.8" fill="#605E5C" text-anchor="middle">2019</text>
<text x="452.4" y="1141" font-size="15.8" fill="#605E5C" text-anchor="middle">2020</text>
<text x="798.9" y="1141" font-size="15.8" fill="#605E5C" text-anchor="middle">2021</text>
<text x="1145.5" y="1141" font-size="15.8" fill="#605E5C" text-anchor="middle">2022</text>
<text x="1492.0" y="1141" font-size="15.8" fill="#605E5C" text-anchor="middle">2023</text>
<path d="M1892,1140.5A12.5,12.5 0 0 1 1879.5,1153" fill="none" stroke="#E4E4E4" stroke-width="1"/>
<path d="M1879.7,-4.7A12.4,12.4 0 0 1 1892.1,7.7" fill="none" stroke="#E4E4E4" stroke-width="1"/>
<svg x="1830" y="0" width="49" height="1153" viewBox="1830 0 49 1153" overflow="hidden">
<text x="1838.2" y="1124.08" font-size="17.5" letter-spacing="0.27" fill="#605E5C">0</text>
<text x="1838.2" y="898.68" font-size="17.5" letter-spacing="0.27" fill="#605E5C">2 000</text>
<text x="1838.2" y="673.28" font-size="17.5" letter-spacing="0.27" fill="#605E5C">4 000</text>
<text x="1838.2" y="447.88" font-size="17.5" letter-spacing="0.27" fill="#605E5C">6 000</text>
<text x="1838.2" y="222.48" font-size="17.5" letter-spacing="0.27" fill="#605E5C">8 000</text>
</svg>
</svg>

</body></html>
